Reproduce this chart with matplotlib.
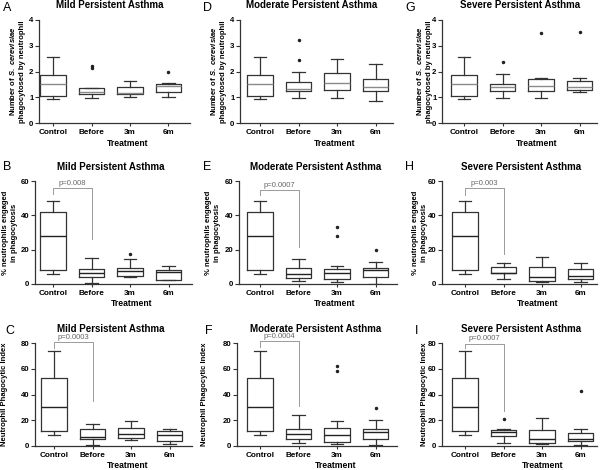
import matplotlib.pyplot as plt

plt.rcParams['font.family'] = ['Liberation Sans', 'DejaVu Sans']
plt.rcParams['font.weight'] = 'bold'
plt.rcParams['mathtext.fontset'] = 'custom'
plt.rcParams['mathtext.rm'] = 'Liberation Sans:bold'
plt.rcParams['mathtext.it'] = 'Liberation Sans:italic:bold'
plt.rcParams['mathtext.bf'] = 'Liberation Sans:bold'

## Box statistics: [whisker low, Q1, median, Q3, whisker high]
groups = ['Control', 'Before', '3m', '6m']

A_stats = [[0.95, 1.06, 1.52, 1.88, 2.58], [0.99, 1.12, 1.22, 1.35, 1.37],
           [1.02, 1.14, 1.18, 1.40, 1.64], [1.00, 1.22, 1.42, 1.52, 1.55]]
A_out = [[], [2.15, 2.20], [], [2.00]]
D_stats = [[0.95, 1.06, 1.52, 1.88, 2.58], [0.99, 1.25, 1.32, 1.60, 2.00],
           [0.99, 1.29, 1.55, 1.94, 2.49], [0.86, 1.26, 1.38, 1.69, 2.31]]
D_out = [[], [2.43, 3.22], [], []]
G_stats = [[0.95, 1.06, 1.52, 1.88, 2.58], [0.99, 1.25, 1.39, 1.52, 1.91],
           [0.99, 1.26, 1.42, 1.70, 1.75], [1.20, 1.30, 1.38, 1.64, 1.75]]
G_out = [[], [2.35], [3.50], [3.53]]

B_stats = [[6.0, 7.9, 27.9, 42.2, 48.6], [0.6, 4.1, 6.6, 8.9, 14.9],
           [4.1, 4.4, 7.5, 9.3, 14.5], [2.1, 2.1, 7.0, 8.1, 10.4]]
B_out = [[], [], [17.4], []]
E_stats = [[6.0, 7.9, 27.9, 42.2, 48.6], [1.9, 3.4, 6.1, 9.2, 14.4],
           [1.0, 2.9, 6.3, 9.0, 10.2], [0.0, 4.0, 7.9, 9.2, 12.8]]
E_out = [[], [], [28.2, 33.0], [19.7]]
H_stats = [[6.0, 7.9, 27.9, 42.2, 48.6], [2.9, 6.2, 6.6, 9.9, 12.0],
           [1.0, 1.5, 4.3, 9.9, 15.5], [1.2, 2.7, 4.4, 8.5, 12.0]]
H_out = [[], [], [], []]

C_stats = [[8.3, 11.7, 30.4, 52.7, 73.5], [0.8, 5.7, 7.3, 13.2, 16.9],
           [4.4, 6.2, 9.4, 13.8, 19.7], [1.3, 3.6, 8.6, 11.4, 13.5]]
C_out = [[], [], [], []]
F_stats = [[8.3, 11.7, 30.4, 52.7, 73.5], [2.6, 5.2, 9.1, 13.2, 23.9],
           [1.3, 3.4, 8.8, 13.8, 19.2], [1.0, 5.5, 10.9, 13.5, 20.5]]
F_out = [[], [], [57.9, 62.5], [29.6]]
I_stats = [[8.3, 11.7, 30.4, 52.7, 73.5], [2.6, 7.8, 10.6, 12.7, 13.5],
           [1.6, 2.6, 5.7, 12.7, 21.6], [1.0, 4.2, 5.7, 9.9, 13.2]]
I_out = [[], [20.8], [], [42.6]]

## p-value brackets: (text, bracket height, left end, right end)
B_p = ('p=0.008', 55.7, 52.2, 26.0)
E_p = ('p=0.0007', 54.8, 52.0, 21.3)
H_p = ('p=0.003', 55.7, 52.0, 17.6)
C_p = ('p=0.0003', 80.5, 76.5, 35.3)
F_p = ('p=0.0004', 81.5, 77.0, 31.2)
I_p = ('p=0.0007', 79.5, 76.0, 27.5)

titles = ['Mild Persistent Asthma', 'Moderate Persistent Asthma', 'Severe Persistent Asthma']
row_ylabels = ['Number of $S.\\ cerevisiae$\nphagocytosed by neutrophil',
               '% neutrophils engaged\nin phagocytosis',
               'Neutrophil Phagocytic Index']
row_yticks = [[0, 1, 2, 3, 4], [0, 20, 40, 60], [0, 20, 40, 60, 80]]

W, H = 600, 470
fig = plt.figure(figsize=(6, 4.7), dpi=100)

def fx(px):
    return px / W

def fy(py):
    return 1 - py / H

# pixel layout: (letter, stats, outliers, p, left, top, right, bottom, control centre, ylabel x, title x, xlabel x, letter x)
panels = [
    ('A', A_stats, A_out, None, 39, 20, 190, 123, 53, 17, 110, 128, 3),
    ('D', D_stats, D_out, None, 240, 20, 393, 123, 260, 218, 312, 335, 203),
    ('G', G_stats, G_out, None, 442, 20, 597, 123, 464, 424, 520, 537, 405),
    ('B', B_stats, B_out, B_p, 35, 181, 192, 284, 53, 10, 111, 132, 3),
    ('E', E_stats, E_out, E_p, 239, 181, 397, 284, 260, 213, 316, 335, 203),
    ('H', H_stats, H_out, H_p, 442, 181, 597, 284, 465, 420, 521, 538, 405),
    ('C', C_stats, C_out, C_p, 35, 343, 192, 446, 54, 5, 111, 128, 5),
    ('F', F_stats, F_out, F_p, 237, 343, 397, 446, 260, 205, 316, 336, 205),
    ('I', I_stats, I_out, I_p, 442, 343, 597, 446, 465, 425, 521, 543, 415),
]
title_base = [8, 170, 332]
letter_base = [11, 170, 334]
xlabel_mid = [143, 303, 465]
sp = 38.5

for i, (letter, stats, outs, pval, l, t, r, b, c0, ylx, tx, xlx, lx) in enumerate(panels):
    row = i // 3
    ax = fig.add_axes([fx(l), fy(b), fx(r - l), (b - t) / H])
    bstats = []
    for name, s, o in zip(groups, stats, outs):
        bstats.append(dict(label=name, whislo=s[0], q1=s[1], med=s[2], q3=s[3], whishi=s[4], fliers=o))
    med_col = '#8a8a8a' if row == 0 else '#222222'
    ax.bxp(bstats, positions=range(4), widths=0.66, capwidths=0.33,
           boxprops=dict(color='#333333', lw=0.9),
           whiskerprops=dict(color='#333333', lw=0.9),
           capprops=dict(color='#333333', lw=0.9),
           medianprops=dict(color=med_col, lw=1.0),
           flierprops=dict(marker='o', markersize=1.5, markerfacecolor='#222222',
                           markeredgecolor='#222222', linestyle='none'))
    ax.set_xlim(-(c0 - l) / sp, (r - l - (c0 - l)) / sp)
    yt = row_yticks[row]
    ax.set_ylim(0, yt[-1])
    ax.set_yticks(yt)
    for side in ['top', 'right']:
        ax.spines[side].set_visible(False)
    for side in ['left', 'bottom']:
        ax.spines[side].set_linewidth(0.9)
        ax.spines[side].set_color('#333333')
    ax.tick_params(axis='y', length=3, width=0.8, pad=1, labelsize=5.6, color='#333333')
    ax.tick_params(axis='x', length=2, width=0.8, pad=2, labelsize=5.9, color='#333333')

    if pval is not None:
        txt, yb, yl, yr = pval
        ax.plot([0, 0, 1, 1], [yl, yb, yb, yr], color='#9a9a9a', lw=0.7, clip_on=False)
        ax.annotate(txt, xy=(0.5, yb), xytext=(0, 1), textcoords='offset points',
                    ha='center', va='bottom', fontsize=5.5, fontweight='normal',
                    color='#666666', annotation_clip=False)

    fig.text(fx(ylx), fy((t + b) / 2), row_ylabels[row], rotation=90, ha='center',
             va='center', fontsize=5.5, multialignment='center', linespacing=1.25)
    fig.text(fx(tx), fy(title_base[row]), titles[i % 3], ha='center', va='baseline', fontsize=7)
    fig.text(fx(xlx), fy(xlabel_mid[row]), 'Treatment', ha='center', va='center', fontsize=6.2)
    fig.text(fx(lx), fy(letter_base[row]), letter, ha='left', va='baseline',
             fontsize=9, fontweight='normal')

plt.savefig('out.png', dpi=100)
